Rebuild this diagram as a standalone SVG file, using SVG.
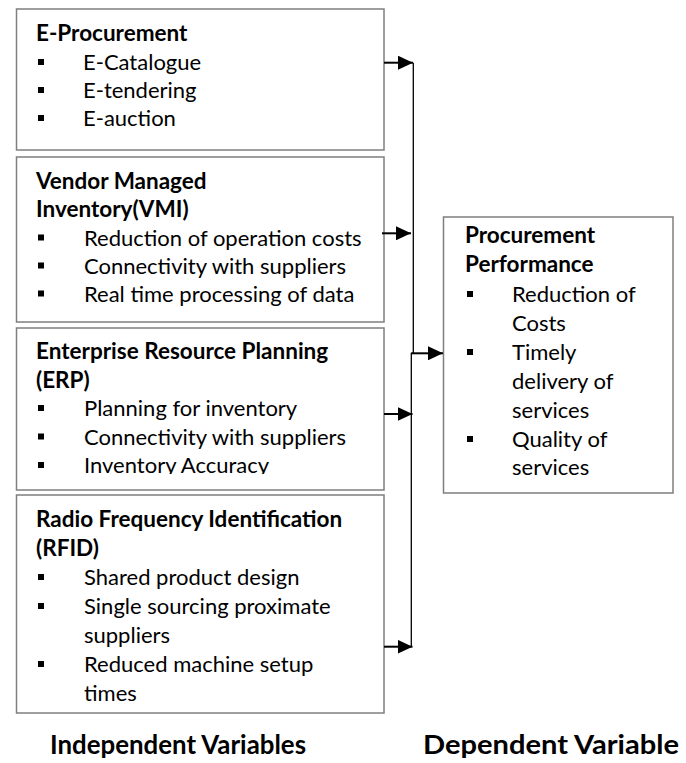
<svg xmlns="http://www.w3.org/2000/svg" width="686" height="763" viewBox="0 0 686 763">
  <style>
    .box { fill: #ffffff; stroke: #7f7f7f; stroke-width: 1.5; }
    .hd { font-family: Lato, "Open Sans", "Liberation Sans", sans-serif; font-weight: 700; font-size: 22.5px; fill: #000; }
    .it { font-family: Lato, "Open Sans", "Liberation Sans", sans-serif; font-size: 22px; fill: #000; }
    .lbl { font-family: Lato, "Open Sans", "Liberation Sans", sans-serif; font-weight: 700; font-size: 27.5px; fill: #000; }
    .wire { fill: none; stroke: #000; stroke-width: 1.3; }
    .shaft { fill: none; stroke: #000; stroke-width: 2; }
  </style>
  <defs>
    <rect id="sq" width="6" height="6" fill="#000"/>
    <marker id="ah" markerWidth="15" markerHeight="14" refX="15" refY="7" orient="auto" markerUnits="userSpaceOnUse">
      <path d="M0,0 L15,7 L0,14 z" fill="#000"/>
    </marker>
    <clipPath id="erpClip">
      <rect x="16" y="328" width="368" height="146"/>
    </clipPath>
  </defs>

  <!-- E-Procurement -->
  <g id="e-procurement">
    <rect class="box" x="16.5" y="9" width="367.5" height="141"/>
    <text class="hd" x="36" y="41">E-Procurement</text>
    <use href="#sq" x="38" y="59"/>
    <text class="it" x="83" y="70">E-Catalogue</text>
    <use href="#sq" x="38" y="87"/>
    <text class="it" x="83" y="98">E-tendering</text>
    <use href="#sq" x="38" y="115"/>
    <text class="it" x="83" y="126">E-auction</text>
  </g>

  <!-- Vendor Managed Inventory -->
  <g id="vmi">
    <rect class="box" x="16.5" y="157" width="367.5" height="165"/>
    <text class="hd" x="36" y="189">Vendor Managed</text>
    <text class="hd" x="36" y="217">Inventory(VMI)</text>
    <use href="#sq" x="38" y="234.5"/>
    <text class="it" x="84" y="245.5">Reduction of operation costs</text>
    <use href="#sq" x="38" y="262.5"/>
    <text class="it" x="84" y="273.5">Connectivity with suppliers</text>
    <use href="#sq" x="38" y="290.5"/>
    <text class="it" x="84" y="301.5">Real time processing of data</text>
  </g>

  <!-- Enterprise Resource Planning -->
  <g id="erp">
    <rect class="box" x="16.5" y="328" width="367.5" height="162"/>
    <g clip-path="url(#erpClip)">
      <text class="hd" x="36" y="359">Enterprise Resource Planning</text>
      <text class="hd" x="36" y="387.5">(ERP)</text>
      <use href="#sq" x="38" y="405"/>
      <text class="it" x="84" y="416">Planning for inventory</text>
      <use href="#sq" x="38" y="433.5"/>
      <text class="it" x="84" y="444.5">Connectivity with suppliers</text>
      <use href="#sq" x="38" y="462"/>
      <text class="it" x="84" y="473">Inventory Accuracy</text>
    </g>
  </g>

  <!-- Radio Frequency Identification -->
  <g id="rfid">
    <rect class="box" x="16.5" y="495" width="367.5" height="218"/>
    <text class="hd" x="36" y="527">Radio Frequency Identification</text>
    <text class="hd" x="36" y="556">(RFID)</text>
    <use href="#sq" x="38" y="574"/>
    <text class="it" x="84" y="585">Shared product design</text>
    <use href="#sq" x="38" y="603"/>
    <text class="it" x="84" y="614">Single sourcing proximate</text>
    <text class="it" x="84" y="643">suppliers</text>
    <use href="#sq" x="38" y="661"/>
    <text class="it" x="84" y="672">Reduced machine setup</text>
    <text class="it" x="84" y="701">times</text>
  </g>

  <!-- Procurement Performance -->
  <g id="procurement-performance">
    <rect class="box" x="443.5" y="217" width="229.5" height="276"/>
    <text class="hd" x="465" y="243">Procurement</text>
    <text class="hd" x="465" y="272">Performance</text>
    <use href="#sq" x="467" y="291"/>
    <text class="it" x="512" y="302">Reduction of</text>
    <text class="it" x="512" y="331">Costs</text>
    <use href="#sq" x="467" y="349"/>
    <text class="it" x="512" y="360">Timely</text>
    <text class="it" x="512" y="389">delivery of</text>
    <text class="it" x="512" y="418">services</text>
    <use href="#sq" x="467" y="436"/>
    <text class="it" x="512" y="447">Quality of</text>
    <text class="it" x="512" y="475">services</text>
  </g>

  <!-- Connectors -->
  <g id="connectors">
    <path class="wire" d="M413.3,62.7 V353.3 H411.3 V647"/>
    <line class="shaft" x1="384" y1="62.7" x2="413" y2="62.7" marker-end="url(#ah)"/>
    <line class="shaft" x1="382" y1="233.3" x2="411" y2="233.3" marker-end="url(#ah)"/>
    <line class="shaft" x1="384" y1="414" x2="412.5" y2="414" marker-end="url(#ah)"/>
    <line class="shaft" x1="384" y1="646.7" x2="412.5" y2="646.7" marker-end="url(#ah)"/>
    <line class="shaft" x1="411.3" y1="353.3" x2="443" y2="353.3" marker-end="url(#ah)"/>
  </g>

  <!-- Axis labels -->
  <g id="labels">
    <text class="lbl" x="50" y="754" textLength="256" lengthAdjust="spacingAndGlyphs">Independent Variables</text>
    <text class="lbl" x="423" y="754" textLength="256" lengthAdjust="spacingAndGlyphs">Dependent Variable</text>
  </g>
</svg>
